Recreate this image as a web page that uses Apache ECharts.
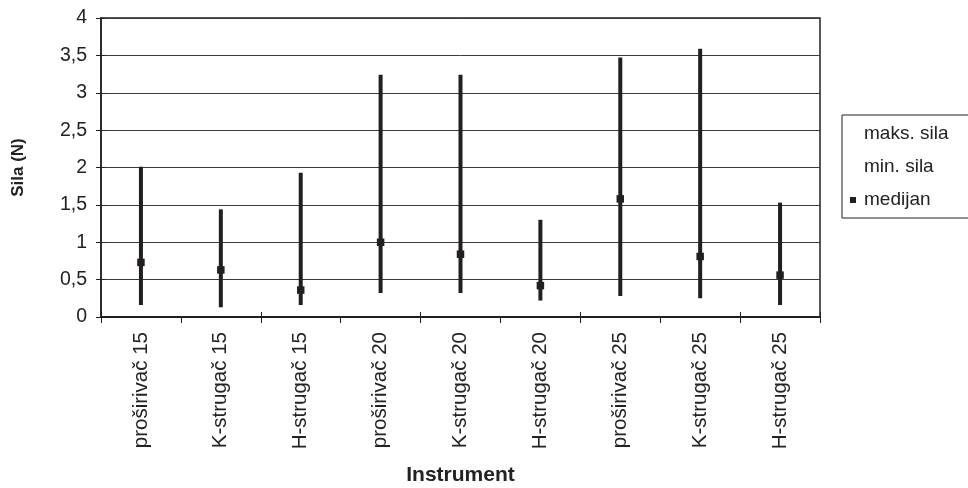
<!DOCTYPE html>
<html>
<head>
<meta charset="utf-8">
<script src="https://cdn.jsdelivr.net/npm/echarts@6/dist/echarts.min.js"></script>
<style>html,body{margin:0;padding:0;background:#fff;}#c{width:968px;height:488px;}</style>
</head>
<body>
<div id="c"></div>
<script>
const categories = ['proširivač 15','K-strugač 15','H-strugač 15','proširivač 20','K-strugač 20','H-strugač 20','proširivač 25','K-strugač 25','H-strugač 25'];
const maxForce = [2.01, 1.44, 1.93, 3.24, 3.24, 1.30, 3.47, 3.59, 1.53];
const minForce = [0.16, 0.13, 0.16, 0.32, 0.32, 0.22, 0.28, 0.25, 0.16];
const median   = [0.73, 0.63, 0.36, 1.00, 0.84, 0.42, 1.58, 0.81, 0.56];
const yTicks = [0, 0.5, 1, 1.5, 2, 2.5, 3, 3.5, 4];

const dark = '#231f20';
const font = 'Liberation Sans, Arial, sans-serif';
const chart = echarts.init(document.getElementById('c'));
const fmt = v => String(v).replace('.', ',');

chart.setOption({
  animation: false,
  backgroundColor: '#fff',
  grid: { left: 101, right: 148, top: 18, bottom: 171, show: true, borderColor: dark, borderWidth: 1.5,
          backgroundColor: 'transparent', outerBoundsMode: 'none', containLabel: false },
  legend: {
    orient: 'vertical', left: 842, top: 115,
    borderColor: dark, borderWidth: 1, padding: [9, 30, 8, 8],
    itemWidth: 6, itemHeight: 6, itemGap: 13,
    textStyle: { fontFamily: font, fontSize: 19, color: '#222', lineHeight: 20, padding: [0, 0, 0, 3] },
    data: [
      { name: 'maks. sila', icon: 'none', itemStyle: { opacity: 0 } },
      { name: 'min. sila', icon: 'none', itemStyle: { opacity: 0 } },
      { name: 'medijan', icon: 'rect' }
    ]
  },
  xAxis: [{
    type: 'category', data: categories, boundaryGap: true,
    name: 'Instrument', nameLocation: 'middle', nameGap: 148,
    nameTextStyle: { fontFamily: font, fontSize: 21, fontWeight: 'bold', color: '#222' },
    axisLine: { lineStyle: { color: dark, width: 2 } },
    axisTick: { show: true, length: 6, lineStyle: { color: dark, width: 1 } },
    axisLabel: { rotate: 90, margin: 15, fontFamily: font, fontSize: 20.5, color: '#222', interval: 0 },
    splitLine: { show: false }
  }, {
    type: 'category', data: categories, boundaryGap: true, position: 'bottom',
    axisLine: { show: false },
    axisTick: { show: true, inside: true, length: 5, lineStyle: { color: dark, width: 1 } },
    axisLabel: { show: false }, splitLine: { show: false }
  }],
  yAxis: [{
    type: 'value', min: 0, max: 4, interval: 0.5,
    name: 'Sila (N)', nameLocation: 'middle', nameGap: 74,
    nameTextStyle: { fontFamily: font, fontSize: 17, fontWeight: 'bold', color: '#222' },
    axisLine: { show: true, lineStyle: { color: dark, width: 1.5 } },
    axisTick: { show: true, length: 5, lineStyle: { color: dark } },
    axisLabel: { margin: 14, fontFamily: font, fontSize: 19.5, color: '#222', formatter: v => fmt(v),
                 customValues: yTicks },
    splitLine: { show: true, lineStyle: { color: '#3a3a3a', width: 1 } }
  }, {
    type: 'value', min: 0, max: 4, interval: 0.5, position: 'left',
    axisLine: { show: false },
    axisTick: { show: true, inside: true, length: 4, lineStyle: { color: dark } },
    axisLabel: { show: false }, splitLine: { show: false }
  }],
  series: [
    {
      name: 'range', type: 'custom', xAxisIndex: 0, yAxisIndex: 0,
      data: categories.map((c, i) => [i, minForce[i], maxForce[i]]),
      encode: { x: 0, y: [1, 2] },
      renderItem: function (params, api) {
        const lo = api.coord([api.value(0), api.value(1)]);
        const hi = api.coord([api.value(0), api.value(2)]);
        return { type: 'line', shape: { x1: lo[0], y1: lo[1], x2: hi[0], y2: hi[1] },
                 style: { stroke: dark, lineWidth: 4 } };
      },
      z: 3
    },
    { name: 'maks. sila', type: 'line', data: maxForce, symbol: 'none', lineStyle: { width: 0, opacity: 0 }, itemStyle: { color: dark } },
    { name: 'min. sila', type: 'line', data: minForce, symbol: 'none', lineStyle: { width: 0, opacity: 0 }, itemStyle: { color: dark } },
    { name: 'medijan', type: 'scatter', data: median, symbol: 'rect', symbolSize: 7.5, itemStyle: { color: dark, opacity: 1 }, z: 5 }
  ]
});
</script>
</body>
</html>
